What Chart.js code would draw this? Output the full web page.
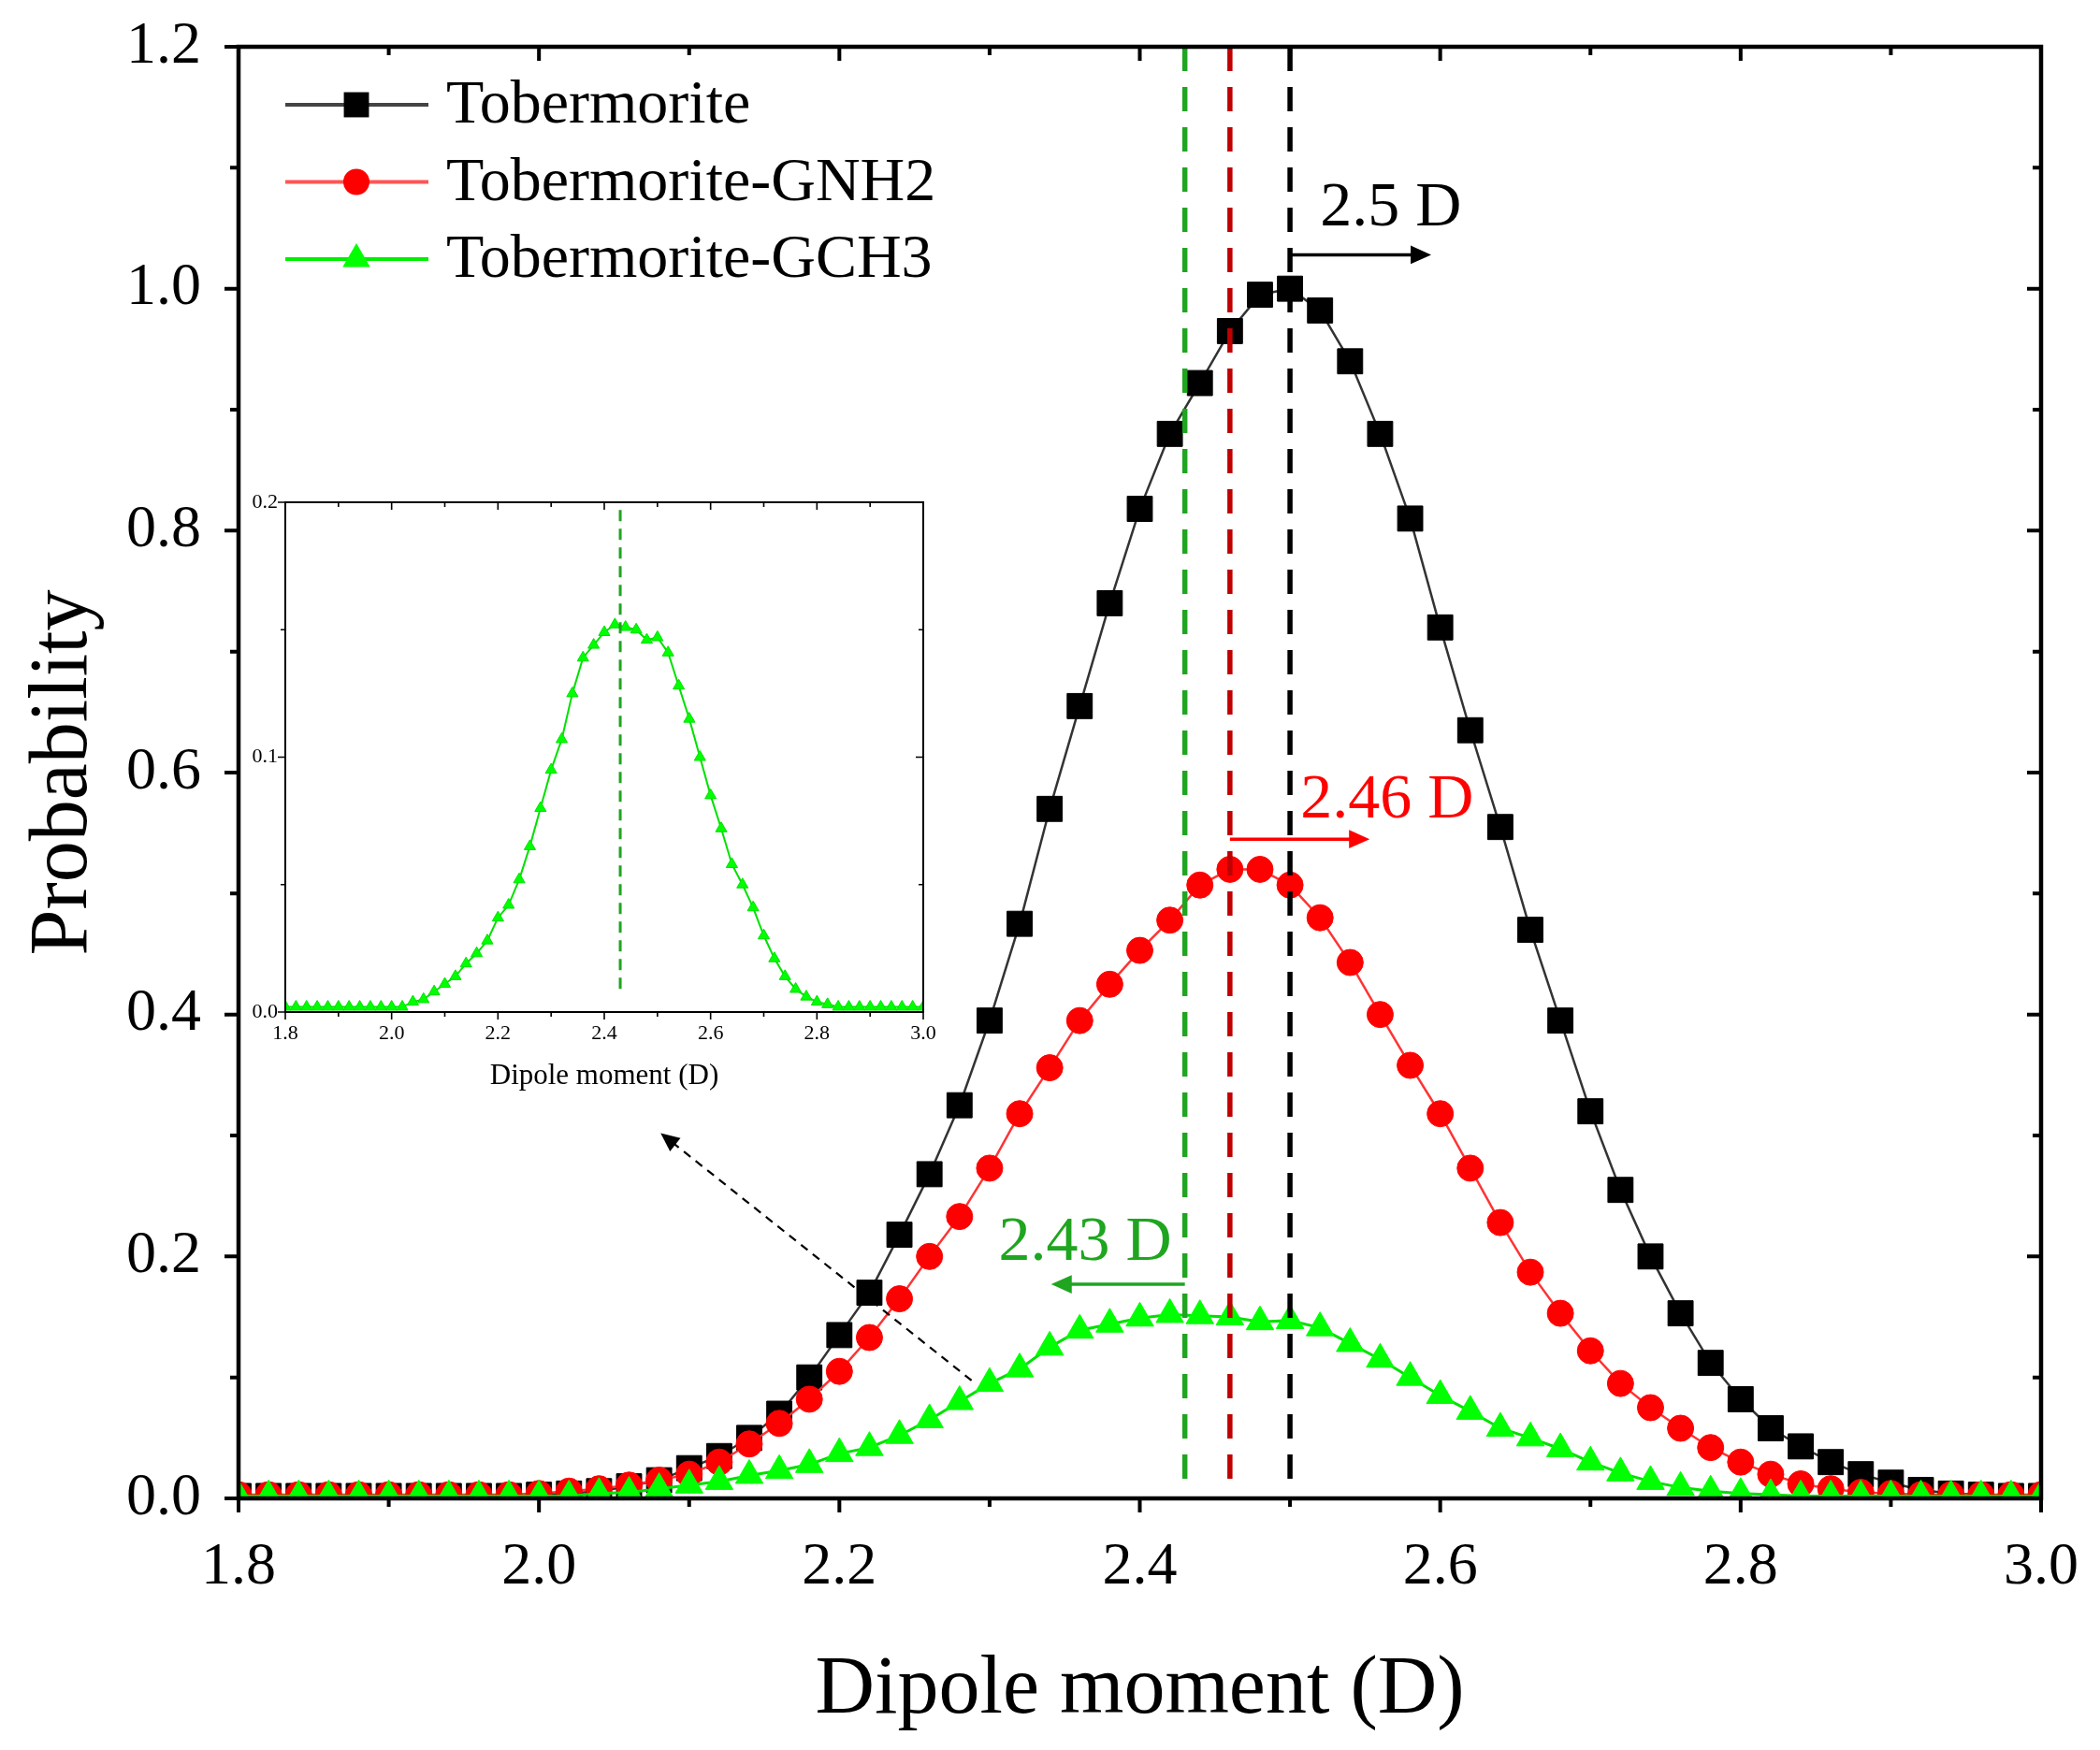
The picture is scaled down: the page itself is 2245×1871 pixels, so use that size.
<!DOCTYPE html>
<html>
<head>
<meta charset="utf-8">
<style>
  html, body { margin: 0; padding: 0; background: #fff; }
  #wrap { position: relative; width: 2245px; height: 1871px; background: #fff; }
  #wrap canvas { position: absolute; left: 0; top: 0; }
</style>
<script src="https://cdn.jsdelivr.net/npm/chart.js@4.4.0/dist/chart.umd.min.js"></script>
</head>
<body>
<div id="wrap">
  <canvas id="mainChart" width="2245" height="1871"></canvas>
  <canvas id="insetChart" width="2245" height="1871"></canvas>
</div>
<script>
// dipole moment grid (D)
const dipole = [
  1.80, 1.82, 1.84, 1.86, 1.88, 1.90, 1.92, 1.94, 1.96, 1.98,
  2.00, 2.02, 2.04, 2.06, 2.08, 2.10, 2.12, 2.14, 2.16, 2.18,
  2.20, 2.22, 2.24, 2.26, 2.28, 2.30, 2.32, 2.34, 2.36, 2.38,
  2.40, 2.42, 2.44, 2.46, 2.48, 2.50, 2.52, 2.54, 2.56, 2.58,
  2.60, 2.62, 2.64, 2.66, 2.68, 2.70, 2.72, 2.74, 2.76, 2.78,
  2.80, 2.82, 2.84, 2.86, 2.88, 2.90, 2.92, 2.94, 2.96, 2.98,
  3.00
];

const tobermorite = [
  0.002, 0.002, 0.002, 0.002, 0.002, 0.002, 0.002, 0.002, 0.002, 0.002,
  0.003, 0.004, 0.006, 0.010, 0.015, 0.025, 0.035, 0.050, 0.070, 0.100,
  0.135, 0.170, 0.218, 0.268, 0.325, 0.395, 0.475, 0.570, 0.655, 0.740,
  0.818, 0.880, 0.922, 0.965, 0.995, 1.000, 0.982, 0.940, 0.880, 0.810,
  0.720, 0.635, 0.555, 0.470, 0.395, 0.320, 0.255, 0.200, 0.153, 0.112,
  0.082, 0.058, 0.043, 0.030, 0.020, 0.013, 0.007, 0.004, 0.003, 0.002,
  0.002
];

const gnh2 = [
  0.003, 0.003, 0.003, 0.003, 0.003, 0.003, 0.003, 0.003, 0.003, 0.003,
  0.004, 0.006, 0.008, 0.011, 0.015, 0.020, 0.030, 0.045, 0.062, 0.082,
  0.105, 0.133, 0.165, 0.200, 0.233, 0.273, 0.318, 0.356, 0.395, 0.425,
  0.453, 0.478, 0.507, 0.520, 0.520, 0.507, 0.480, 0.443, 0.400, 0.358,
  0.318, 0.273, 0.228, 0.187, 0.153, 0.122, 0.095, 0.075, 0.058, 0.042,
  0.030, 0.020, 0.012, 0.008, 0.005, 0.004, 0.003, 0.003, 0.003, 0.003,
  0.003
];

const gch3 = [
  0.002, 0.002, 0.002, 0.002, 0.002, 0.002, 0.002, 0.002, 0.002, 0.002,
  0.002, 0.002, 0.004, 0.005, 0.008, 0.011, 0.014, 0.019, 0.023, 0.028,
  0.037, 0.042, 0.052, 0.065, 0.080, 0.095, 0.107, 0.125, 0.139, 0.144,
  0.149, 0.152, 0.151, 0.150, 0.146, 0.147, 0.141, 0.128, 0.115, 0.100,
  0.085, 0.072, 0.058, 0.050, 0.041, 0.030, 0.021, 0.014, 0.009, 0.006,
  0.004, 0.003, 0.002, 0.002, 0.002, 0.002, 0.002, 0.002, 0.002, 0.002,
  0.002
];

const seriesNames = ['Tobermorite', 'Tobermorite-GNH2', 'Tobermorite-GCH3'];
const peakValues = [2.5, 2.46, 2.43];
const peakLabels = ['2.5 D', '2.46 D', '2.43 D'];

const SERIF = '"Liberation Serif", "Times New Roman", serif';
const pts = ys => dipole.map((x, i) => ({ x: x, y: ys[i] }));

// look of each series (main chart + legend)
const looks = [
  { line: '#333333', legLine: '#444444', fill: '#000000', style: 'rect', r: 19, lw: 2.5 },
  { line: '#ff3333', legLine: '#ff5555', fill: '#ff0000', style: 'circle', r: 14, lw: 2.5 },
  { line: '#00e000', legLine: '#00ee00', fill: '#00ff00', style: 'triangle', r: 17, lw: 3 }
];

// annotation placement, in data units
const notes = [
  { color: '#000000', dash: '#000000', textX: 2.520, textY: 1.052, arrowY: 1.028, arrowTo: 2.594 },
  { color: '#ff0000', dash: '#c00000', textX: 2.507, textY: 0.563, arrowY: 0.545, arrowTo: 2.553 },
  { color: '#1fa51f', dash: '#1fa51f', textX: 2.306, textY: 0.197, arrowY: 0.177, arrowTo: 2.341 }
];

function marker(ctx, style, x, y, r, fill) {
  ctx.fillStyle = fill;
  ctx.beginPath();
  if (style === 'rect') {
    const s = r * Math.SQRT1_2;
    ctx.rect(x - s, y - s, 2 * s, 2 * s);
  } else if (style === 'circle') {
    ctx.arc(x, y, r, 0, Math.PI * 2);
  } else {
    const a = 2 * Math.PI / 3;
    ctx.moveTo(x, y - r);
    ctx.lineTo(x + r * Math.sin(a), y - r * Math.cos(a));
    ctx.lineTo(x + r * Math.sin(2 * a), y - r * Math.cos(2 * a));
  }
  ctx.closePath();
  ctx.fill();
}

function arrow(ctx, x1, y1, x2, y2, color, width, head, dash) {
  const ang = Math.atan2(y2 - y1, x2 - x1);
  const c = Math.cos(ang), s = Math.sin(ang);
  ctx.save();
  ctx.strokeStyle = color;
  ctx.fillStyle = color;
  ctx.lineWidth = width;
  ctx.setLineDash(dash || []);
  ctx.beginPath();
  ctx.moveTo(x1, y1);
  ctx.lineTo(x2 - c * head * 0.8, y2 - s * head * 0.8);
  ctx.stroke();
  ctx.setLineDash([]);
  ctx.beginPath();
  ctx.moveTo(x2, y2);
  ctx.lineTo(x2 - head * c + head * 0.45 * s, y2 - head * s - head * 0.45 * c);
  ctx.lineTo(x2 - head * c - head * 0.45 * s, y2 - head * s + head * 0.45 * c);
  ctx.closePath();
  ctx.fill();
  ctx.restore();
}

// box + ticks: left/bottom out, top/right in
function drawFrame(chart, o) {
  const { ctx, chartArea: a, scales: { x, y } } = chart;
  ctx.save();
  ctx.strokeStyle = '#000';
  ctx.lineWidth = o.tickWidth;
  ctx.beginPath();
  const nx = Math.round((x.max - x.min) / o.xMinor);
  for (let i = 0; i <= nx; i++) {
    const px = x.getPixelForValue(x.min + i * o.xMinor);
    const len = i % 2 === 0 ? o.major : o.minor;
    ctx.moveTo(px, a.bottom); ctx.lineTo(px, a.bottom + len);
    ctx.moveTo(px, a.top); ctx.lineTo(px, a.top + len);
  }
  const ny = Math.round((y.max - y.min) / o.yMinor);
  for (let i = 0; i <= ny; i++) {
    const py = y.getPixelForValue(y.min + i * o.yMinor);
    const len = i % 2 === 0 ? o.major : o.minor;
    ctx.moveTo(a.left, py); ctx.lineTo(a.left - len, py);
    ctx.moveTo(a.right, py); ctx.lineTo(a.right - len, py);
  }
  ctx.stroke();
  ctx.lineWidth = o.frameWidth;
  ctx.strokeRect(a.left, a.top, a.right - a.left, a.bottom - a.top);
  ctx.restore();
}

// fixed axis sizes, no label overhang padding
function fixX(h) {
  return s => { s.height = h; s.paddingLeft = 0; s.paddingRight = 0; };
}
function fixY(w) {
  return s => { s.width = w; s.paddingTop = 0; s.paddingBottom = 0; };
}

const mainDecor = {
  id: 'mainDecor',
  afterDatasetsDraw(chart) {
    const { ctx, chartArea: a, scales: { x, y } } = chart;
    ctx.save();
    ctx.lineWidth = 5.5;
    ctx.setLineDash([26, 17]);
    peakValues.forEach((v, i) => {
      const px = x.getPixelForValue(v);
      ctx.strokeStyle = notes[i].dash;
      ctx.beginPath();
      ctx.moveTo(px, a.top);
      ctx.lineTo(px, y.getPixelForValue(0.015));
      ctx.stroke();
    });
    ctx.restore();
  },
  afterDraw(chart) {
    const { ctx, scales: { x, y } } = chart;
    drawFrame(chart, { xMinor: 0.1, yMinor: 0.1, major: 15, minor: 9, tickWidth: 4, frameWidth: 4.5 });

    // annotations
    ctx.save();
    ctx.font = '68px ' + SERIF;
    ctx.textBaseline = 'alphabetic';
    ctx.textAlign = 'left';
    notes.forEach((n, i) => {
      ctx.fillStyle = n.color;
      ctx.fillText(peakLabels[i], x.getPixelForValue(n.textX), y.getPixelForValue(n.textY));
      const ay = y.getPixelForValue(n.arrowY);
      arrow(ctx, x.getPixelForValue(peakValues[i]), ay, x.getPixelForValue(n.arrowTo), ay, n.color, 3.5, 22);
    });
    // pointer to the inset
    arrow(ctx, x.getPixelForValue(2.288), y.getPixelForValue(0.0975),
      x.getPixelForValue(2.081), y.getPixelForValue(0.302), '#000', 2.2, 20, [9, 7]);
    ctx.restore();

    // legend
    ctx.save();
    ctx.font = '66px ' + SERIF;
    ctx.textBaseline = 'middle';
    seriesNames.forEach((name, i) => {
      const ly = 112 + i * 82.5;
      const lk = looks[i];
      ctx.strokeStyle = lk.legLine;
      ctx.lineWidth = 4;
      ctx.beginPath();
      ctx.moveTo(305, ly);
      ctx.lineTo(458, ly);
      ctx.stroke();
      marker(ctx, lk.style, 381, ly, lk.r, lk.fill);
      ctx.fillStyle = '#000';
      ctx.fillText(name, 477, ly + 2);
    });
    ctx.restore();
  }
};

const mainSets = [tobermorite, gnh2, gch3].map((ys, i) => ({
  label: seriesNames[i],
  data: pts(ys),
  borderColor: looks[i].line,
  borderWidth: looks[i].lw,
  pointStyle: looks[i].style,
  pointRadius: looks[i].r,
  pointBackgroundColor: looks[i].fill,
  pointBorderColor: looks[i].fill,
  pointBorderWidth: 1,
  order: 2 - i,
  clip: 0
}));

new Chart(document.getElementById('mainChart'), {
  type: 'line',
  data: { datasets: mainSets },
  options: {
    responsive: false,
    animation: false,
    devicePixelRatio: 1,
    layout: { padding: { top: 50, right: 63, left: 0, bottom: 0 } },
    plugins: { legend: { display: false }, tooltip: { enabled: false } },
    scales: {
      x: {
        type: 'linear', min: 1.8, max: 3.0,
        grid: { display: false, drawTicks: false },
        border: { display: false },
        ticks: { stepSize: 0.2, padding: 36, color: '#000', maxRotation: 0, autoSkip: false,
                 font: { family: SERIF, size: 64 }, callback: v => v.toFixed(1) },
        title: { display: true, text: 'Dipole moment (D)', color: '#000',
                 font: { family: SERIF, size: 88 }, padding: { top: 0, bottom: 10 } },
        afterFit: fixX(269)
      },
      y: {
        min: 0, max: 1.2,
        grid: { display: false, drawTicks: false },
        border: { display: false },
        ticks: { stepSize: 0.2, padding: 40, color: '#000',
                 font: { family: SERIF, size: 64 }, callback: v => v.toFixed(1) },
        title: { display: true, text: 'Probability', color: '#000',
                 font: { family: SERIF, size: 88 }, padding: { top: 16, bottom: 0 } },
        afterFit: fixY(255)
      }
    }
  },
  plugins: [mainDecor]
});

// inset: Tobermorite-GCH3 alone on its own scale
const insetDecor = {
  id: 'insetDecor',
  afterDatasetsDraw(chart) {
    const { ctx, scales: { x, y } } = chart;
    ctx.save();
    ctx.strokeStyle = notes[2].dash;
    ctx.lineWidth = 3;
    ctx.setLineDash([12, 8]);
    const px = x.getPixelForValue(peakValues[2]);
    ctx.beginPath();
    ctx.moveTo(px, y.getPixelForValue(0.197));
    ctx.lineTo(px, y.getPixelForValue(0.007));
    ctx.stroke();
    ctx.restore();
  },
  afterDraw(chart) {
    drawFrame(chart, { xMinor: 0.1, yMinor: 0.05, major: 8, minor: 5, tickWidth: 1.6, frameWidth: 2 });
  }
};

new Chart(document.getElementById('insetChart'), {
  type: 'line',
  data: {
    datasets: [{
      label: seriesNames[2],
      data: pts(gch3),
      borderColor: '#00e000',
      borderWidth: 2,
      pointStyle: 'triangle',
      pointRadius: 7,
      pointBackgroundColor: '#00ff00',
      pointBorderColor: '#00e000',
      pointBorderWidth: 1,
      clip: 0
    }]
  },
  options: {
    responsive: false,
    animation: false,
    devicePixelRatio: 1,
    layout: { padding: { left: 245, top: 537, right: 1258, bottom: 689 } },
    plugins: { legend: { display: false }, tooltip: { enabled: false } },
    scales: {
      x: {
        type: 'linear', min: 1.8, max: 3.0,
        grid: { display: false, drawTicks: false },
        border: { display: false },
        ticks: { stepSize: 0.2, padding: 10, color: '#000', maxRotation: 0, autoSkip: false,
                 font: { family: SERIF, size: 22 }, callback: v => v.toFixed(1) },
        title: { display: true, text: 'Dipole moment (D)', color: '#000',
                 font: { family: SERIF, size: 31 }, padding: { top: 0, bottom: 13 } },
        afterFit: fixX(100)
      },
      y: {
        min: 0, max: 0.2,
        grid: { display: false, drawTicks: false },
        border: { display: false },
        ticks: { stepSize: 0.1, padding: 8, color: '#000',
                 font: { family: SERIF, size: 22 }, callback: v => v.toFixed(1) },
        afterFit: fixY(60)
      }
    }
  },
  plugins: [insetDecor]
});
</script>
</body>
</html>
